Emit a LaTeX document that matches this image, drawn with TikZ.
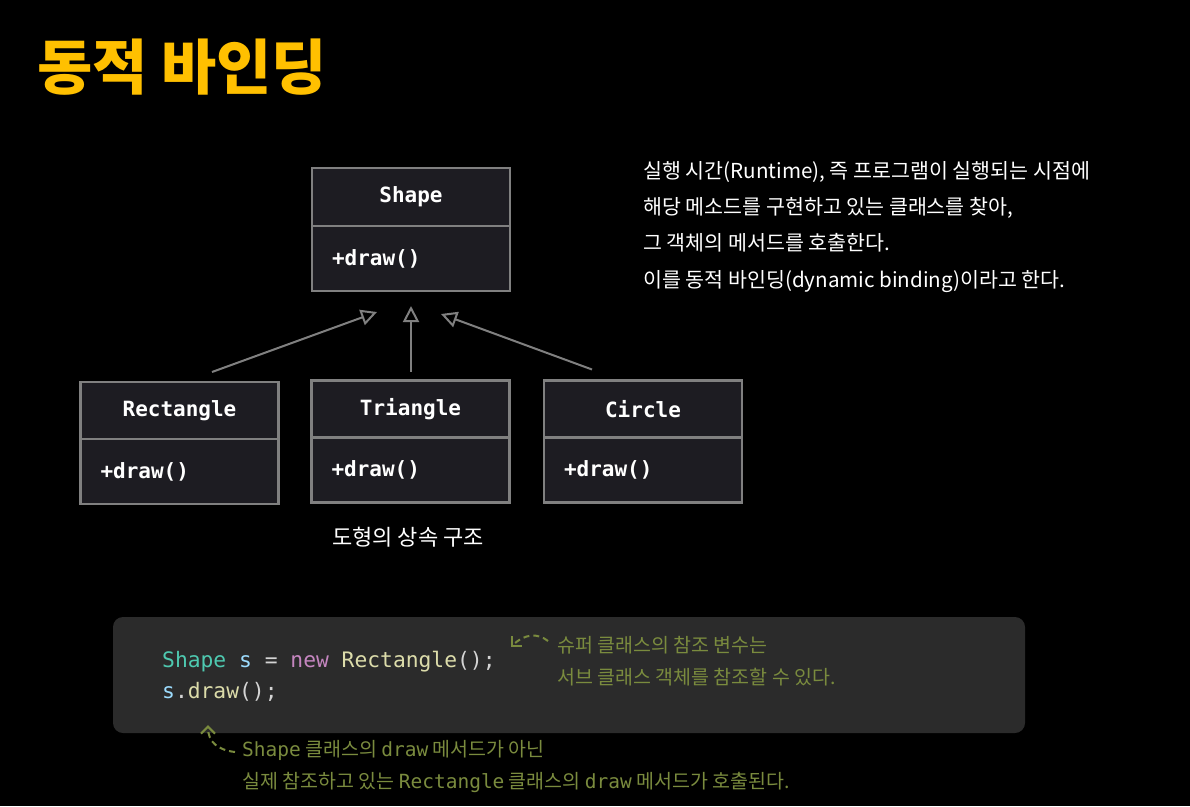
\documentclass[tikz,border=0pt]{standalone}
\usepackage{fontspec}
\setmainfont{Noto Sans CJK KR}
\setmonofont{DejaVu Sans Mono}
\usepackage{xcolor}
\usetikzlibrary{arrows.meta,positioning,calc}

\definecolor{titleyellow}{HTML}{FFC000}
\definecolor{boxfill}{HTML}{1D1C22}
\definecolor{boxline}{HTML}{808080}
\definecolor{codebg}{HTML}{2B2B2B}
\definecolor{noteolive}{HTML}{7A8B3E}
\definecolor{kwtype}{HTML}{4EC9B0}
\definecolor{kwvar}{HTML}{9CDCFE}
\definecolor{kwnew}{HTML}{C586C0}
\definecolor{kwfunc}{HTML}{DCDCAA}
\definecolor{kwplain}{HTML}{D4D4D4}

\tikzset{
  classhead/.style={draw=boxline, fill=boxfill, line width=2.8pt, outer sep=0pt,
    minimum width=198pt, minimum height=58pt, text=white,
    font=\ttfamily\bfseries\fontsize{21}{24}\selectfont},
  classbody/.style={classhead, minimum height=65pt, text width=158pt, align=left,
    inner xsep=20pt},
  inherit/.style={draw=boxline, line width=2pt, -{Triangle[open, length=16pt, width=16pt]}},
  notetext/.style={text=noteolive, inner sep=0pt, align=left,
    font=\fontsize{19.5}{32}\selectfont},
  notearrow/.style={draw=noteolive, line width=2pt, dashed, dash pattern=on 6pt off 4pt,
    -{Straight Barb[length=7pt, width=14pt]}}
}

\begin{document}
\begin{tikzpicture}[x=1pt, y=-1pt]
  % 배경
  \fill[black] (0,0) rectangle (1190,806);
  \useasboundingbox (0,0) rectangle (1190,806);
  % 제목
  \node[anchor=west, text=titleyellow, font=\bfseries\fontsize{60}{70}\selectfont, inner sep=0pt]
    (title) at (37,67) {동적 바인딩};
  % 상위 클래스
  \node[classhead] (shapehead) at (411,197) {Shape};
  \node[classbody, below=0pt of shapehead] (shapebody) {+draw()};
  % 하위 클래스
  \node[classhead, minimum height=57pt] (recthead) at (179.5,410.5) {Rectangle};
  \node[classbody, below=0pt of recthead] (rectbody) {+draw()};
  \node[classhead, minimum height=57pt] (trihead) at (410.5,409) {Triangle};
  \node[classbody, below=0pt of trihead] (tribody) {+draw()};
  \node[classhead, minimum height=57pt] (circhead) at (643,409) {Circle};
  \node[classbody, below=0pt of circhead] (circbody) {+draw()};
  % 상속 화살표
  \draw[inherit] ($(recthead.north)+(32.5,-10)$) -- ($(shapebody.south)+(-34,21)$);
  \draw[inherit] ($(trihead.north)+(0.5,-9)$) -- ($(shapebody.south)+(0,15)$);
  \draw[inherit] ($(circhead.north)+(-51,-11)$) -- ($(shapebody.south)+(30,23)$);
  \node[text=white, font=\fontsize{22}{26}\selectfont] (caption) at (408,537) {도형의 상속 구조};
  % 설명
  \node[anchor=north west, inner sep=0pt, text=white, align=left,
    font=\fontsize{20.6}{36.3}\selectfont] (explain) at (643,161)
    {실행 시간(Runtime), 즉 프로그램이 실행되는 시점에\\
     해당 메소드를 구현하고 있는 클래스를 찾아,\\
     그 객체의 메서드를 호출한다.\\
     이를 동적 바인딩(dynamic binding)이라고 한다.};
  % 코드
  \node[fill=codebg, rounded corners=10pt, minimum width=912pt, minimum height=116pt,
    inner sep=0pt] (codebox) at (569,675) {};
  \node[anchor=base west, inner sep=0pt, font=\ttfamily\fontsize{21.3}{24}\selectfont]
    (codeone) at (162,667)
    {\textcolor{kwtype}{Shape} \textcolor{kwvar}{s} \textcolor{kwplain}{=} \textcolor{kwnew}{new} \textcolor{kwfunc}{Rectangle}\textcolor{kwplain}{();}};
  \node[anchor=base west, inner sep=0pt, font=\ttfamily\fontsize{21.3}{24}\selectfont]
    (codetwo) at (162,698)
    {\textcolor{kwvar}{s}\textcolor{kwplain}{.}\textcolor{kwfunc}{draw}\textcolor{kwplain}{();}};
  % 주석
  \node[notetext, anchor=north west] (superref) at (557,636)
    {슈퍼 클래스의 참조 변수는\\서브 클래스 객체를 참조할 수 있다.};
  \node[notetext, anchor=north west] (dyncall) at (242,740)
    {{\ttfamily Shape} 클래스의 {\ttfamily draw} 메서드가 아닌\\
     실제 참조하고 있는 {\ttfamily Rectangle} 클래스의 {\ttfamily draw} 메서드가 호출된다.};
  \coordinate (superfrom) at ($(superref.north west)+(-9,5)$);
  \coordinate (superto) at ($(codeone.east)+(15,-14)$);
  \draw[notearrow] (superfrom) .. controls ($(superfrom)+(-10,-8)$) and ($(superto)+(14,-14)$) .. (superto);
  \coordinate (dynfrom) at ($(dyncall.north west)+(-7,12)$);
  \coordinate (dynto) at ($(codetwo.south west)+(46,24)$);
  \draw[notearrow] (dynfrom) .. controls ($(dynfrom)+(-17,-2)$) and ($(dynto)+(0,17)$) .. (dynto);
\end{tikzpicture}
\end{document}
